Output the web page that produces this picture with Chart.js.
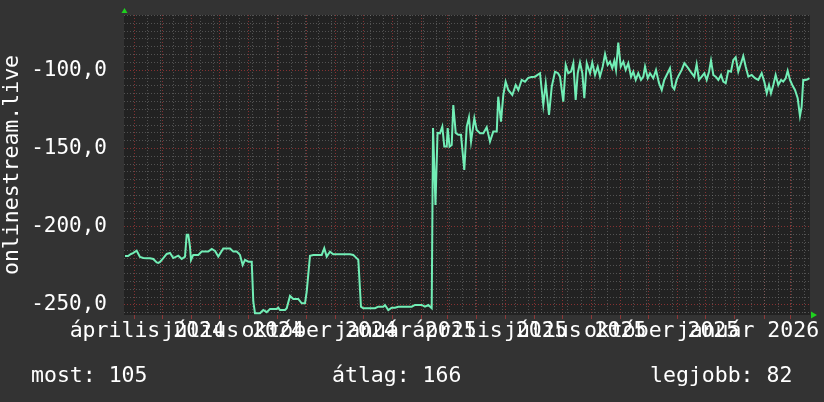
<!DOCTYPE html>
<html><head><meta charset="utf-8">
<script src="https://cdn.jsdelivr.net/npm/chart.js@4/dist/chart.umd.min.js"></script>
<style>
html,body{margin:0;padding:0;background:#333333;}
#wrap{position:relative;width:824px;height:402px;background:#333333;overflow:hidden;}
canvas{position:absolute;left:0;top:0;}
.leg{position:absolute;top:364px;font-family:'DejaVu Sans Mono',monospace;font-size:21.5px;line-height:21.5px;color:#ffffff;white-space:pre;}
</style></head><body>
<div id="wrap"><canvas id="c" width="824" height="402"></canvas></div>
<script>
// x values: days since 2024-03-21
const days = [
 1.1,4.3,7.5,9.6,13.5,17.0,20.6,24.2,27.7,31.2,
 34.8,36.6,38.4,41.9,45.5,49.0,52.5,57.9,61.5,65.0,
 66.8,68.5,70.3,71.4,73.8,79.2,82.8,89.8,93.5,97.0,
 100.5,105.8,113.0,116.5,120.1,123.6,126.5,128.9,132.5,136.1,
 137.8,139.6,144.9,148.4,152.1,155.6,162.7,164.4,166.2,171.6,
 173.4,176.9,180.4,185.7,189.4,192.9,194.7,198.2,201.7,207.0,
 210.7,213.4,216.0,219.5,223.0,230.2,235.5,240.8,244.3,246.2,
 249.7,252.5,255.0,260.3,267.5,271.0,276.3,278.1,281.6,285.3,
 288.8,292.3,299.5,306.6,310.1,317.2,320.7,324.3,327.9,329.3,
 331.9,334.1,336.7,339.2,341.3,343.9,344.9,346.9,349.2,350.9,
 353.5,356.2,359.1,362.6,365.2,367.6,369.8,373.3,375.8,379.4,
 382.9,386.5,390.0,393.5,397.2,398.8,401.7,404.2,406.7,409.5,
 413.8,417.4,420.2,423.8,427.3,430.8,434.4,438.0,443.3,446.8,
 449.4,452.9,455.8,459.3,462.5,464.6,468.1,470.7,473.4,476.3,
 478.8,481.3,483.5,485.9,488.4,490.5,493.1,496.6,499.0,501.9,
 504.8,507.2,510.1,512.6,515.4,517.9,520.3,522.5,524.3,526.7,
 529.3,532.1,534.6,537.4,540.3,542.7,545.3,548.0,550.9,553.4,
 555.2,558.1,560.5,564.0,566.9,570.1,573.0,575.7,578.3,581.8,
 584.3,586.4,588.9,591.4,594.3,597.1,601.2,604.9,607.7,610.2,
 612.7,615.6,618.4,620.9,623.4,625.5,628.0,630.5,633.3,636.2,
 638.6,641.2,643.9,646.8,649.3,651.8,654.6,657.5,659.9,662.5,
 665.3,668.9,672.4,675.9,679.5,682.3,684.9,687.3,689.4,691.9,
 694.4,697.2,700.1,702.5,705.1,707.2,709.7,712.1,715.0,717.9,
 720.3,722.1,723.8,726.4,728.5,730.4
];
const values = [
 -218.7,-218.7,-217.4,-216.9,-215.3,-219.3,-220.0,-220.1,-220.1,-220.6,
 -222.8,-223.1,-222.5,-220.0,-217.4,-216.8,-220.0,-218.5,-220.6,-219.1,
 -205.2,-205.2,-212.7,-221.2,-218.0,-218.0,-215.9,-215.9,-214.2,-215.5,
 -219.1,-213.9,-213.9,-215.9,-215.9,-218.0,-224.4,-221.2,-222.3,-222.3,
 -247.9,-255.3,-255.3,-253.2,-254.6,-252.5,-252.5,-251.7,-253.2,-253.2,
 -252.1,-244.2,-246.1,-246.1,-248.9,-248.9,-241.5,-218.5,-218.0,-218.0,
 -218.0,-213.7,-219.1,-215.9,-217.6,-217.6,-217.6,-217.6,-218.0,-219.1,
 -221.2,-251.1,-252.1,-252.1,-252.1,-251.1,-251.1,-250.0,-253.2,-251.7,
 -251.7,-251.1,-251.1,-251.1,-250.0,-250.0,-251.1,-250.0,-252.1,-136.9,
 -186.1,-140.1,-140.3,-136.0,-148.8,-148.8,-136.9,-148.8,-147.7,-122.2,
 -140.1,-141.3,-141.3,-163.7,-136.0,-130.0,-145.6,-130.7,-138.2,-140.3,
 -140.3,-136.4,-145.6,-139.2,-139.2,-116.9,-132.9,-115.8,-107.3,-112.6,
 -115.8,-109.4,-112.6,-106.2,-107.3,-104.9,-104.3,-104.1,-101.9,-122.2,
 -108.3,-128.6,-110.5,-100.9,-101.9,-104.1,-120.1,-96.6,-101.9,-100.9,
 -95.5,-119.0,-101.9,-95.1,-101.9,-117.9,-95.5,-101.9,-95.1,-103.0,
 -97.7,-104.1,-97.7,-89.6,-96.6,-94.5,-98.7,-93.9,-99.8,-82.4,
 -97.7,-94.5,-99.8,-95.5,-104.1,-100.9,-106.2,-101.9,-106.2,-104.1,
 -97.7,-105.1,-101.9,-105.1,-99.8,-108.3,-112.6,-106.2,-103.0,-98.7,
 -110.5,-112.1,-106.2,-103.0,-99.8,-95.5,-98.7,-101.9,-104.1,-96.2,
 -106.2,-104.1,-101.9,-106.2,-100.9,-93.9,-103.0,-104.1,-106.2,-103.0,
 -107.3,-108.3,-100.3,-100.9,-93.4,-91.7,-100.9,-95.5,-90.9,-97.7,
 -104.1,-103.0,-105.1,-106.2,-101.9,-107.3,-114.7,-109.4,-114.7,-109.4,
 -103.0,-109.4,-106.2,-107.3,-105.1,-100.3,-106.2,-109.4,-112.6,-117.9,
 -129.2,-123.3,-106.2,-106.2,-105.8,-105.1
];
// month starts (days since 2024-03-21) and labelled months
const monthStartDays = [11,41,72,102,133,164,194,225,255,286,317,345,376,406,437,467,498,529,559,590,620,651,682,710];
const labelDays = [11,102,194,286,376,467,559,651];
const tickLabels = ['április 2024','július 2024','október 2024','január 2025','április 2025','július 2025','október 2025','január 2026'];
const legendLabels = ['most','átlag','legjobb'];
const legendValues = [105,166,82];
const legendLeft = [31,332,650];
const axisTitle = 'onlinestream.live';

const wrap = document.getElementById('wrap');
legendLabels.forEach((l,i)=>{
  const d=document.createElement('div'); d.className='leg';
  d.style.left=legendLeft[i]+'px'; d.textContent=l+': '+legendValues[i];
  wrap.appendChild(d);
});

const RED='rgba(200,60,60,0.6)', GREY='rgba(130,130,130,0.5)';
const FONT={family:"'DejaVu Sans Mono', monospace", size:21};
const FONT_L={family:"'DejaVu Sans Mono', monospace", size:21.5};
const isMonth = v => monthStartDays.indexOf(v) >= 0;

const bgPlugin = {
  id:'bg',
  beforeDraw(chart){
    const {ctx, chartArea:a} = chart;
    ctx.save(); ctx.fillStyle='#222222';
    ctx.fillRect(a.left, a.top, a.right-a.left, a.bottom-a.top);
    ctx.restore();
  },
  afterDraw(chart){
    const {ctx, chartArea:a} = chart;
    ctx.save(); ctx.fillStyle='#1fd11f';
    ctx.beginPath();
    ctx.moveTo(a.left+0.5, a.top-7); ctx.lineTo(a.left-2.5, a.top-2); ctx.lineTo(a.left+3.5, a.top-2); ctx.closePath(); ctx.fill();
    ctx.beginPath();
    ctx.moveTo(a.right+7, a.bottom); ctx.lineTo(a.right+1, a.bottom-3.5); ctx.lineTo(a.right+1, a.bottom+3.5); ctx.closePath(); ctx.fill();
    ctx.restore();
  }
};

new Chart(document.getElementById('c'), {
  type:'line',
  data:{datasets:[{
    data: days.map((d,i)=>({x:d, y:values[i]})),
    borderColor:'#72eeb6', borderWidth:2, pointRadius:0, tension:0, fill:false
  }]},
  options:{
    responsive:false, animation:false, devicePixelRatio:1,
    layout:{padding:{top:15, right:14, left:0, bottom:0}},
    plugins:{legend:{display:false}, tooltip:{enabled:false}},
    scales:{
      x:{
        type:'linear', min:0, max:731,
        afterBuildTicks(s){
          const set = new Set(monthStartDays);
          for (let d=11; d<=731; d+=14) set.add(d);
          s.ticks = [...set].sort((a,b)=>a-b).map(v=>({value:v}));
        },
        afterFit(s){ s.height = 87; s.paddingLeft = 0; s.paddingRight = 0; },
        grid:{
          color: c => (c.tick && isMonth(c.tick.value)) ? RED : GREY,
          lineWidth:1, drawTicks:true, tickLength:4,
          tickColor: c => (c.tick && isMonth(c.tick.value)) ? RED : 'rgba(0,0,0,0)'
        },
        border:{display:false, dash:[1,2]},
        ticks:{
          autoSkip:false, maxRotation:0, minRotation:0, color:'#ffffff', font:FONT_L,
          padding:0, labelOffset:13,
          callback: v => { const i = labelDays.indexOf(v); return i>=0 ? tickLabels[i] : ''; }
        }
      },
      y:{
        min:-256.4, max:-64.7,
        afterBuildTicks(s){
          const t=[]; for (let v=-255; v<=-65; v+=5) t.push({value:v}); s.ticks=t;
        },
        afterFit(s){ s.width = 124; s.paddingTop = 0; s.paddingBottom = 0; },
        grid:{ color: c => (c.tick && c.tick.value % 50 === 0) ? RED : GREY, drawTicks:false },
        border:{display:false, dash:[1,2]},
        ticks:{
          autoSkip:false, color:'#ffffff', font:FONT, padding:17,
          callback: v => (v % 50 === 0) ? v.toFixed(1).replace('.', ',') : ''
        },
        title:{display:true, text:axisTitle, color:'#ffffff', font:FONT_L, padding:0}
      }
    }
  },
  plugins:[bgPlugin]
});
</script>
</body></html>
